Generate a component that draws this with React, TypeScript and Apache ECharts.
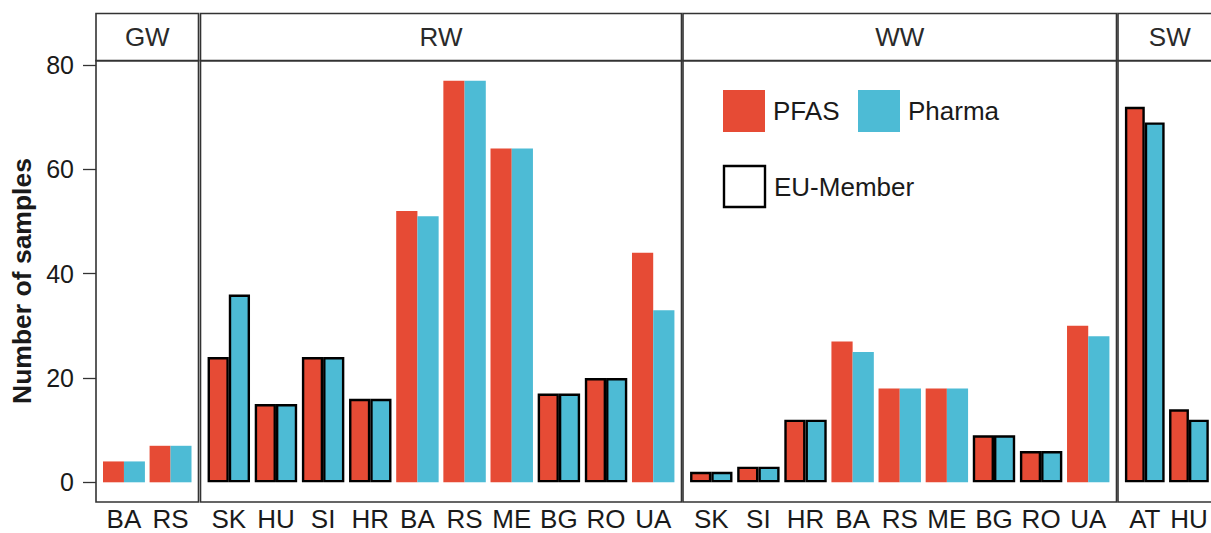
import React, { useEffect, useRef } from "react";
import * as echarts from "echarts";

// ---- data ----
const gwCats = ["BA", "RS"];
const gwPFAS = [4, 7];
const gwPharma = [4, 7];
const gwEU = [false, false];

const rwCats = ["SK", "HU", "SI", "HR", "BA", "RS", "ME", "BG", "RO", "UA"];
const rwPFAS = [24, 15, 24, 16, 52, 77, 64, 17, 20, 44];
const rwPharma = [36, 15, 24, 16, 51, 77, 64, 17, 20, 33];
const rwEU = [true, true, true, true, false, false, false, true, true, false];

const wwCats = ["SK", "SI", "HR", "BA", "RS", "ME", "BG", "RO", "UA"];
const wwPFAS = [2, 3, 12, 27, 18, 18, 9, 6, 30];
const wwPharma = [2, 3, 12, 25, 18, 18, 9, 6, 28];
const wwEU = [true, true, true, false, false, false, true, true, false];

const swCats = ["AT", "HU"];
const swPFAS = [72, 14];
const swPharma = [69, 12];
const swEU = [true, true];

const yTicks = [0, 20, 40, 60, 80];
const seriesNames = ["PFAS", "Pharma"];
const colors = ["#E64B35", "#4DBBD5"];

const FONT = '"Liberation Sans", Arial, Helvetica, sans-serif';
const TEXT = "#1a1a1a";
const BORDER = "#333333";

export default function App() {
  const ref = useRef<HTMLDivElement>(null);

  useEffect(() => {
    if (!ref.current) return;
    const chart = echarts.init(ref.current, null, { renderer: "svg" });

    const panels = [
      { name: "GW", cats: gwCats, pfas: gwPFAS, pharma: gwPharma, eu: gwEU, L: 96, R: 198.5 },
      { name: "RW", cats: rwCats, pfas: rwPFAS, pharma: rwPharma, eu: rwEU, L: 200.5, R: 681.5 },
      { name: "WW", cats: wwCats, pfas: wwPFAS, pharma: wwPharma, eu: wwEU, L: 683, R: 1116.5 },
      { name: "SW", cats: swCats, pfas: swPFAS, pharma: swPharma, eu: swEU, L: 1118, R: 1118 + 2.2 * 47.1 },
    ];

    const y0 = 482.3; // pixel of value 0
    const y80 = 65; // pixel of value 80
    const panelTop = 60.6;
    const panelBottom = 502;
    const stripTop = 13.5;

    const grids: any[] = [];
    const xAxes: any[] = [];
    const yAxes: any[] = [];
    const series: any[] = [];
    const graphics: any[] = [];

    panels.forEach((p, i) => {
      const n = p.cats.length;
      const band = (p.R - p.L) / (n + 0.2);
      const gl = p.L + 0.1 * band;
      grids.push({ left: gl, width: n * band, top: y80, height: y0 - y80, containLabel: false });
      xAxes.push({
        type: "category",
        gridIndex: i,
        data: p.cats,
        axisLine: { show: false },
        axisTick: { show: false },
        axisLabel: {
          margin: 24,
          fontSize: 26,
          lineHeight: 26,
          color: TEXT,
          fontFamily: FONT,
          interval: 0,
        },
        splitLine: { show: false },
      });
      yAxes.push({
        type: "value",
        gridIndex: i,
        min: yTicks[0],
        max: yTicks[yTicks.length - 1],
        interval: 20,
        offset: i === 0 ? 0.1 * band : 0,
        axisLine: { show: false },
        axisTick: { show: i === 0, length: 13, lineStyle: { color: BORDER, width: 1.3 } },
        axisLabel: { show: i === 0, margin: 22, fontSize: 25, color: TEXT, fontFamily: FONT },
        splitLine: { show: false },
      });
      [p.pfas, p.pharma].forEach((vals, k) => {
        series.push({
          type: "bar",
          name: seriesNames[k],
          xAxisIndex: i,
          yAxisIndex: i,
          barGap: "0%",
          barCategoryGap: "10%",
          itemStyle: { color: colors[k] },
          data: vals.map((v, j) => ({
            value: v,
            itemStyle: p.eu[j]
              ? { color: colors[k], borderColor: "#000", borderWidth: 2.4 }
              : { color: colors[k], borderWidth: 0 },
          })),
        });
      });
      // panel border
      graphics.push({
        type: "rect",
        shape: { x: p.L, y: panelTop, width: p.R - p.L, height: panelBottom - panelTop },
        style: { fill: "none", stroke: BORDER, lineWidth: 1.6 },
        z: 10,
      });
      // strip
      graphics.push({
        type: "rect",
        shape: { x: p.L, y: stripTop, width: p.R - p.L, height: panelTop - stripTop },
        style: { fill: "#fff", stroke: BORDER, lineWidth: 1.6 },
        z: 10,
      });
      graphics.push({
        type: "text",
        x: (p.L + p.R) / 2,
        y: (stripTop + panelTop) / 2,
        style: {
          text: p.name,
          font: `26px ${FONT}`,
          fill: "#2a2a2a",
          align: "center",
          verticalAlign: "middle",
        },
        z: 11,
      });
    });

    // y axis title
    graphics.push({
      type: "text",
      x: 22,
      y: 281,
      rotation: Math.PI / 2,
      style: {
        text: "Number of samples",
        font: `bold 26.5px ${FONT}`,
        fill: TEXT,
        align: "center",
        verticalAlign: "middle",
      },
    });
    // EU-Member legend key
    graphics.push({
      type: "rect",
      shape: { x: 724, y: 166, width: 41, height: 41 },
      style: { fill: "#fff", stroke: "#000", lineWidth: 2.4 },
      z: 10,
    });
    graphics.push({
      type: "text",
      x: 774,
      y: 187,
      style: {
        text: "EU-Member",
        font: `26px ${FONT}`,
        fill: TEXT,
        align: "left",
        verticalAlign: "middle",
      },
      z: 10,
    });

    const legendCommon = {
      top: 90,
      padding: 0,
      itemWidth: 42,
      itemHeight: 42,
      icon: "rect",
      itemStyle: { borderWidth: 0 },
      textStyle: { fontSize: 26, color: TEXT, fontFamily: FONT, padding: [0, 0, 0, 3] },
      selectedMode: false,
    };

    chart.setOption({
      animation: false,
      backgroundColor: "#fff",
      grid: grids,
      xAxis: xAxes,
      yAxis: yAxes,
      series,
      legend: [
        { ...legendCommon, left: 723, data: ["PFAS"] },
        { ...legendCommon, left: 858, data: ["Pharma"] },
      ],
      graphic: graphics,
    });

    return () => chart.dispose();
  }, []);

  return (
    <div
      ref={ref}
      style={{ position: "fixed", left: 0, top: 0, width: 1211, height: 533 }}
    />
  );
}
